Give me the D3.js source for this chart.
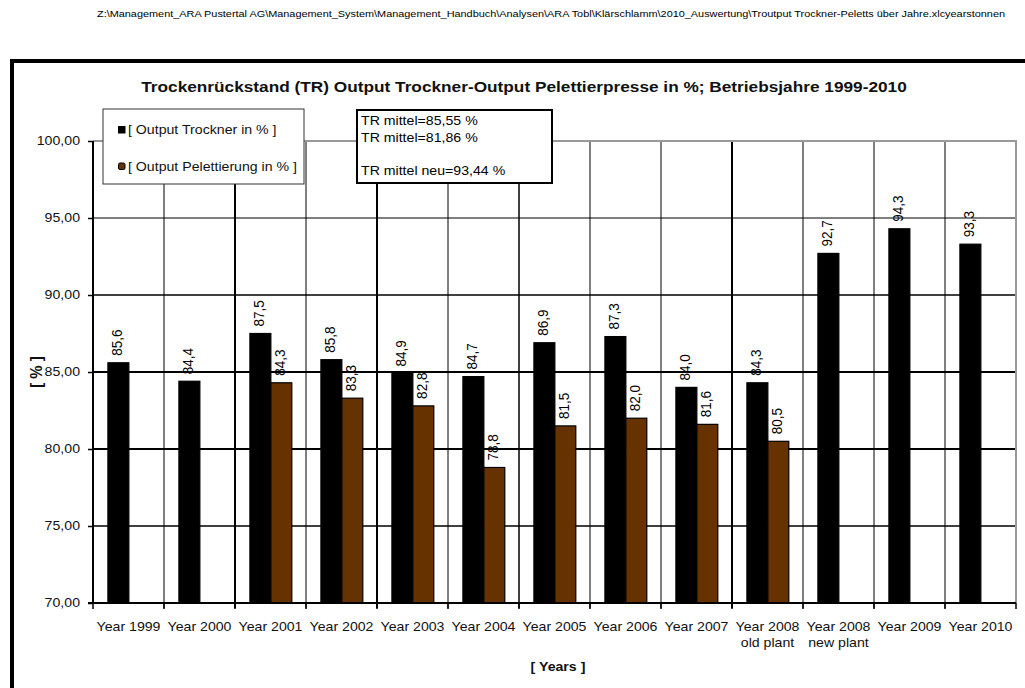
<!DOCTYPE html>
<html>
<head>
<meta charset="utf-8">
<script src="https://cdn.jsdelivr.net/npm/d3@7"></script>
<style>
  html, body { margin: 0; padding: 0; background: #fff; }
  svg { display: block; font-family: "Liberation Sans", Arial, sans-serif; }
</style>
</head>
<body>
<svg id="chart" width="1025" height="688"></svg>
<script>
// ---- data ----
const categories = [
  "Year 1999", "Year 2000", "Year 2001", "Year 2002", "Year 2003", "Year 2004",
  "Year 2005", "Year 2006", "Year 2007", "Year 2008\nold plant", "Year 2008\nnew plant",
  "Year 2009", "Year 2010"
];
const seriesNames = ["[ Output Trockner in % ]", "[ Output Pelettierung in % ]"];
const outputTrockner = [85.6, 84.4, 87.5, 85.8, 84.9, 84.7, 86.9, 87.3, 84.0, 84.3, 92.7, 94.3, 93.3];
const outputPelettierung = [null, null, 84.3, 83.3, 82.8, 78.8, 81.5, 82.0, 81.6, 80.5, null, null, null];
const yTicks = [70, 75, 80, 85, 90, 95, 100];
const meanLines = ["TR mittel=85,55 %", "TR mittel=81,86 %", "", "TR mittel neu=93,44 %"];
const titleText = "Trockenrückstand (TR) Output Trockner-Output Pelettierpresse in %; Betriebsjahre 1999-2010";
const headerText = "Z:\\Management_ARA Pustertal AG\\Management_System\\Management_Handbuch\\Analysen\\ARA Tobl\\Klärschlamm\\2010_Auswertung\\Troutput Trockner-Peletts über Jahre.xlcyearstonnen";

// ---- layout ----
const svg = d3.select("#chart");
const plot = { left: 93, right: 1016, top: 141, bottom: 603 };
const colors = ["#000000", "#663300"];
const hs = 1.15; // horizontal text stretch

function stretch(sel) {
  sel.each(function () {
    const x = +this.getAttribute("x") || 0, y = +this.getAttribute("y") || 0;
    this.setAttribute("transform", `translate(${x},${y}) scale(${hs},1) translate(${-x},${-y})`);
  });
}

const x = d3.scaleBand().domain(categories).range([plot.left, plot.right]).padding(0);
const bw = x.bandwidth();
const sub = d3.scaleBand().domain([0, 1]).range([bw * 0.21, bw * 0.80]).padding(0);
const y = d3.scaleLinear().domain([70, 100]).range([plot.bottom, plot.top]);

// header path line
svg.append("text")
  .attr("x", 97).attr("y", 17)
  .attr("font-size", 9.5)
  .attr("textLength", 908).attr("lengthAdjust", "spacingAndGlyphs")
  .attr("fill", "#000")
  .text(headerText);

// outer frame
svg.append("rect")
  .attr("x", 12).attr("y", 61).attr("width", 1100).attr("height", 700)
  .attr("fill", "none").attr("stroke", "#000").attr("stroke-width", 4);

// title
svg.append("text")
  .attr("x", 524).attr("y", 92)
  .attr("text-anchor", "middle")
  .attr("font-size", 15).attr("font-weight", "bold")
  .attr("fill", "#111")
  .text(titleText)
  .call(stretch);

// horizontal gridlines
const hWidth = { 75: 1.5, 80: 2, 85: 2, 90: 1.5, 95: 1 };
svg.append("g").selectAll("line")
  .data(yTicks.filter(d => d > 70 && d < 100))
  .join("line")
  .attr("x1", plot.left).attr("x2", plot.right)
  .attr("y1", d => y(d)).attr("y2", d => y(d))
  .attr("stroke", "#000")
  .attr("stroke-width", d => hWidth[d]);

// vertical gridlines at category boundaries
const vWidth = [0, 1, 2, 1, 2, 1, 1.5, 1, 1, 2, 1, 1, 1];
svg.append("g").selectAll("line")
  .data(categories.slice(1))
  .join("line")
  .attr("x1", d => x(d)).attr("x2", d => x(d))
  .attr("y1", plot.top).attr("y2", plot.bottom + 5)
  .attr("stroke", "#000")
  .attr("stroke-width", (d, i) => vWidth[i + 1]);

// plot border (top and right)
svg.append("path")
  .attr("d", `M${plot.left},${plot.top}H${plot.right}V${plot.bottom}`)
  .attr("fill", "none").attr("stroke", "#999").attr("stroke-width", 2);

// bars
const barData = [];
categories.forEach((c, i) => {
  [outputTrockner[i], outputPelettierung[i]].forEach((v, s) => {
    if (v != null) barData.push({ c, s, v });
  });
});
svg.append("g").selectAll("rect")
  .data(barData)
  .join("rect")
  .attr("x", d => x(d.c) + sub(d.s))
  .attr("width", sub.bandwidth())
  .attr("y", d => y(d.v))
  .attr("height", d => y(70) - y(d.v))
  .attr("fill", d => colors[d.s])
  .attr("stroke", "#000").attr("stroke-width", 1.2);

// value labels
const fmt1 = v => v.toFixed(1).replace(".", ",");
svg.append("g").selectAll("text")
  .data(barData)
  .join("text")
  .attr("transform", d => `translate(${x(d.c) + sub(d.s) + sub.bandwidth() / 2 - 1},${y(d.v) - 7}) scale(1.08,1) rotate(-90)`)
  .attr("dy", "0.35em")
  .attr("font-size", 13.5)
  .attr("fill", "#000")
  .text(d => fmt1(d.v));

// y axis
const yAxis = svg.append("g")
  .attr("transform", `translate(${plot.left},0)`)
  .call(d3.axisLeft(y).tickValues(yTicks).tickSize(5).tickPadding(8)
    .tickFormat(d => d.toFixed(2).replace(".", ",")));
yAxis.select(".domain").remove();
yAxis.selectAll(".tick line").attr("stroke", "#000").attr("stroke-width", 1.5);
yAxis.selectAll(".tick text").attr("font-size", 12.3).attr("fill", "#111").attr("font-family", null).call(stretch);
svg.append("line")
  .attr("x1", plot.left).attr("x2", plot.left)
  .attr("y1", plot.top).attr("y2", plot.bottom)
  .attr("stroke", "#000").attr("stroke-width", 2);

// x axis line and boundary ticks
svg.append("line")
  .attr("x1", plot.left - 5).attr("x2", plot.right)
  .attr("y1", plot.bottom).attr("y2", plot.bottom)
  .attr("stroke", "#000").attr("stroke-width", 2);
svg.append("g").selectAll("line")
  .data(categories.map(c => x(c)).concat([plot.right]))
  .join("line")
  .attr("x1", d => d).attr("x2", d => d)
  .attr("y1", plot.bottom).attr("y2", plot.bottom + 6)
  .attr("stroke", "#000").attr("stroke-width", 1.5);

// category labels
const xAxis = svg.append("g")
  .attr("transform", `translate(0,${plot.bottom})`)
  .call(d3.axisBottom(x).tickSize(0).tickPadding(19.5));
xAxis.select(".domain").remove();
xAxis.selectAll(".tick text")
  .attr("font-size", 12.3).attr("fill", "#111").attr("font-family", null)
  .each(function (d) {
    const t = d3.select(this);
    const lines = d.split("\n");
    t.text(null);
    lines.forEach((ln, i) => {
      t.append("tspan").attr("x", 0).attr("dy", i === 0 ? "0.71em" : "1.25em").text(ln);
    });
  })
  .attr("dy", null)
  .call(stretch);

// axis titles
svg.append("text")
  .attr("transform", `translate(36,372) scale(1.1,1) rotate(-90)`)
  .attr("text-anchor", "middle")
  .attr("dy", "0.35em")
  .attr("font-size", 15).attr("font-weight", "bold").attr("fill", "#111")
  .text("[ % ]");
svg.append("text")
  .attr("x", 558).attr("y", 671)
  .attr("text-anchor", "middle")
  .attr("font-size", 12.3).attr("font-weight", "bold").attr("fill", "#111")
  .text("[ Years ]")
  .call(stretch);

// legend
const legend = svg.append("g");
legend.append("rect")
  .attr("x", 103).attr("y", 109).attr("width", 201).attr("height", 75)
  .attr("fill", "#fff").attr("stroke", "#333").attr("stroke-width", 1);
seriesNames.forEach((name, i) => {
  const cy = 130 + i * 36.5;
  legend.append("rect")
    .attr("x", 118.5).attr("y", cy - 3.5).attr("width", 6.5).attr("height", 6.5)
    .attr("rx", i === 1 ? 1.5 : 0)
    .attr("fill", colors[i]).attr("stroke", "#000").attr("stroke-width", 1);
  legend.append("text")
    .attr("x", 128).attr("y", cy + 4.3)
    .attr("font-size", 12.3).attr("fill", "#111")
    .text(name)
    .call(stretch);
});

// mean value box
const box = svg.append("g");
box.append("rect")
  .attr("x", 357).attr("y", 110).attr("width", 195).attr("height", 73)
  .attr("fill", "#fff").attr("stroke", "#000").attr("stroke-width", 2);
meanLines.forEach((ln, i) => {
  if (!ln) return;
  box.append("text")
    .attr("x", 361).attr("y", 125.5 + i * 16.5)
    .attr("font-size", 12.3).attr("fill", "#000")
    .text(ln)
    .call(stretch);
});
</script>
</body>
</html>
